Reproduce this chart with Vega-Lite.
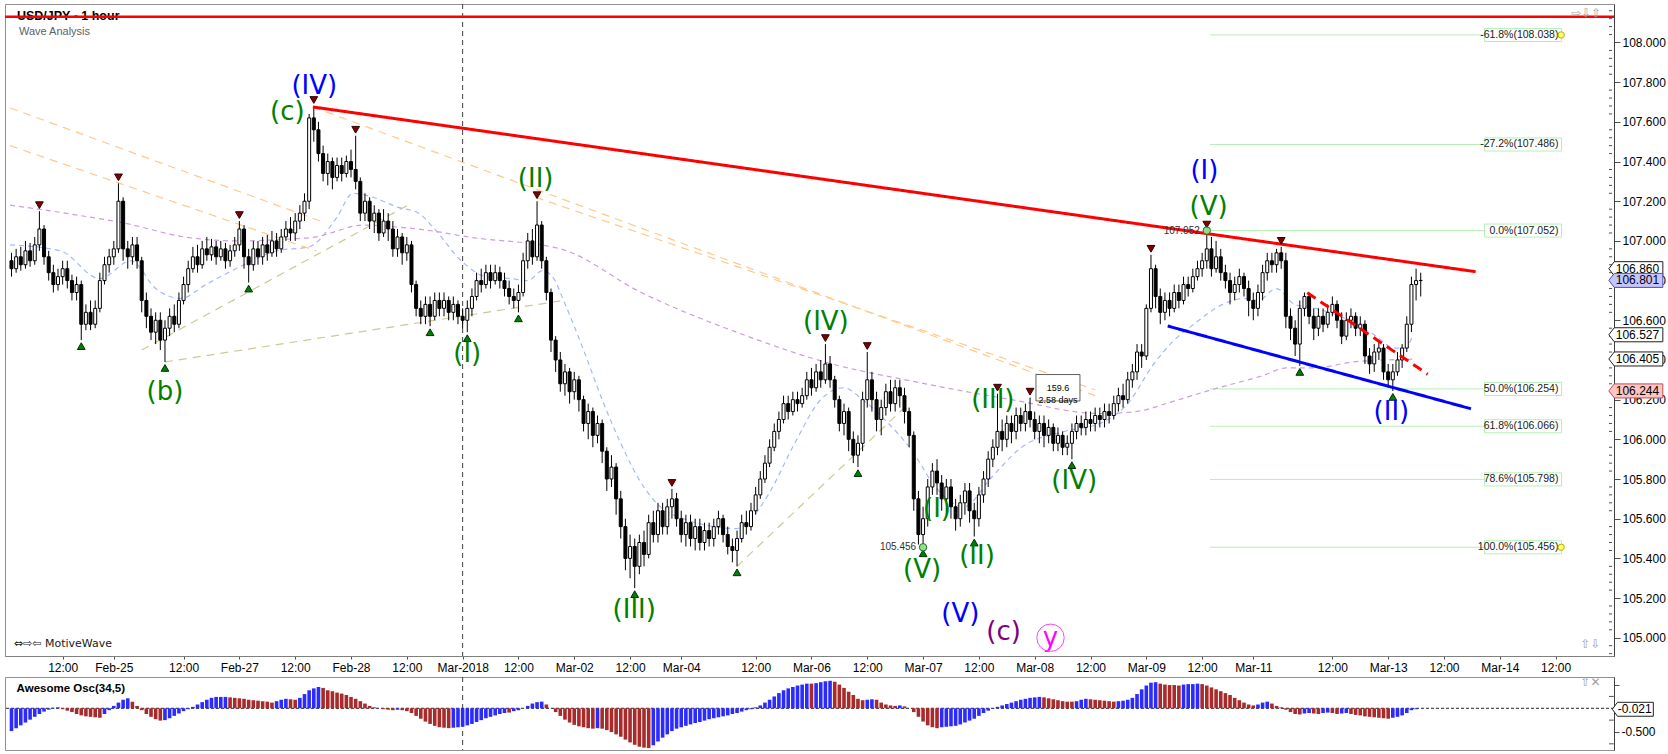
{
"$schema": "https://vega.github.io/schema/vega-lite/v6.json",
"padding": {"left": 3, "top": 3, "right": 0, "bottom": 0},
"background": "#ffffff",
"spacing": 1,
"config": {"view": {"stroke": "#909090"}, "axis": {"grid": false, "labelFont": "Liberation Sans", "labelColor": "#000000", "labelFontSize": 12, "domainColor": "#505050", "tickColor": "#505050"}},
"datasets": {
"one": [{}],
"mt": [{"v":104.92},{"v":104.96},{"v":105.04},{"v":105.08},{"v":105.12},{"v":105.16},{"v":105.24},{"v":105.28},{"v":105.32},{"v":105.36},{"v":105.44},{"v":105.48},{"v":105.52},{"v":105.56},{"v":105.64},{"v":105.68},{"v":105.72},{"v":105.76},{"v":105.84},{"v":105.88},{"v":105.92},{"v":105.96},{"v":106.04},{"v":106.08},{"v":106.12},{"v":106.16},{"v":106.24},{"v":106.28},{"v":106.32},{"v":106.36},{"v":106.44},{"v":106.48},{"v":106.52},{"v":106.56},{"v":106.64},{"v":106.68},{"v":106.72},{"v":106.76},{"v":106.84},{"v":106.88},{"v":106.92},{"v":106.96},{"v":107.04},{"v":107.08},{"v":107.12},{"v":107.16},{"v":107.24},{"v":107.28},{"v":107.32},{"v":107.36},{"v":107.44},{"v":107.48},{"v":107.52},{"v":107.56},{"v":107.64},{"v":107.68},{"v":107.72},{"v":107.76},{"v":107.84},{"v":107.88},{"v":107.92},{"v":107.96},{"v":108.04},{"v":108.08},{"v":108.12},{"v":108.16}],
"ot": [{"v":-0.75},{"v":-0.25},{"v":0.25}],
"k": [
{"i":-11,"o":106.90,"h":106.94,"l":106.82,"c":106.86,"a":-0.48,"u":1},
{"i":-10,"o":106.86,"h":106.96,"l":106.84,"c":106.92,"a":-0.42,"u":1},
{"i":-9,"o":106.92,"h":106.97,"l":106.85,"c":106.88,"a":-0.36,"u":1},
{"i":-8,"o":106.88,"h":107.00,"l":106.86,"c":106.95,"a":-0.30,"u":1},
{"i":-7,"o":106.95,"h":106.99,"l":106.87,"c":106.90,"a":-0.24,"u":1},
{"i":-6,"o":106.90,"h":107.02,"l":106.88,"c":106.98,"a":-0.18,"u":1},
{"i":-5,"o":106.98,"h":107.15,"l":106.95,"c":107.06,"a":-0.12,"u":1},
{"i":-4,"o":107.06,"h":107.08,"l":106.88,"c":106.92,"a":-0.07,"u":1},
{"i":-3,"o":106.92,"h":106.95,"l":106.80,"c":106.84,"a":-0.03,"u":1},
{"i":-2,"o":106.84,"h":106.88,"l":106.74,"c":106.78,"a":0.01,"u":1},
{"i":-1,"o":106.78,"h":106.86,"l":106.75,"c":106.82,"a":0.02,"u":1},
{"i":0,"o":106.82,"h":106.90,"l":106.78,"c":106.86,"a":-0.02,"u":0},
{"i":1,"o":106.86,"h":106.90,"l":106.76,"c":106.80,"a":-0.05,"u":0},
{"i":2,"o":106.80,"h":106.83,"l":106.70,"c":106.74,"a":-0.08,"u":0},
{"i":3,"o":106.74,"h":106.82,"l":106.70,"c":106.78,"a":-0.12,"u":0},
{"i":4,"o":106.78,"h":106.80,"l":106.50,"c":106.58,"a":-0.15,"u":0},
{"i":5,"o":106.58,"h":106.68,"l":106.55,"c":106.64,"a":-0.17,"u":0},
{"i":6,"o":106.64,"h":106.70,"l":106.55,"c":106.58,"a":-0.18,"u":0},
{"i":7,"o":106.58,"h":106.70,"l":106.56,"c":106.66,"a":-0.19,"u":0},
{"i":8,"o":106.66,"h":106.84,"l":106.64,"c":106.80,"a":-0.20,"u":0},
{"i":9,"o":106.80,"h":106.92,"l":106.78,"c":106.88,"a":-0.12,"u":1},
{"i":10,"o":106.88,"h":106.96,"l":106.84,"c":106.92,"a":-0.04,"u":1},
{"i":11,"o":106.92,"h":107.00,"l":106.88,"c":106.96,"a":0.05,"u":1},
{"i":12,"o":106.96,"h":107.29,"l":106.94,"c":107.20,"a":0.12,"u":1},
{"i":13,"o":107.20,"h":107.22,"l":106.90,"c":106.96,"a":0.18,"u":1},
{"i":14,"o":106.96,"h":107.00,"l":106.86,"c":106.92,"a":0.21,"u":1},
{"i":15,"o":106.92,"h":107.02,"l":106.88,"c":106.98,"a":0.14,"u":0},
{"i":16,"o":106.98,"h":107.02,"l":106.86,"c":106.90,"a":0.05,"u":0},
{"i":17,"o":106.90,"h":106.92,"l":106.64,"c":106.70,"a":-0.04,"u":0},
{"i":18,"o":106.70,"h":106.74,"l":106.56,"c":106.62,"a":-0.12,"u":0},
{"i":19,"o":106.62,"h":106.66,"l":106.50,"c":106.54,"a":-0.18,"u":0},
{"i":20,"o":106.54,"h":106.64,"l":106.48,"c":106.60,"a":-0.23,"u":0},
{"i":21,"o":106.60,"h":106.64,"l":106.45,"c":106.50,"a":-0.26,"u":0},
{"i":22,"o":106.50,"h":106.60,"l":106.39,"c":106.56,"a":-0.25,"u":1},
{"i":23,"o":106.56,"h":106.66,"l":106.52,"c":106.62,"a":-0.21,"u":1},
{"i":24,"o":106.62,"h":106.68,"l":106.54,"c":106.58,"a":-0.16,"u":1},
{"i":25,"o":106.58,"h":106.74,"l":106.56,"c":106.70,"a":-0.11,"u":1},
{"i":26,"o":106.70,"h":106.82,"l":106.68,"c":106.78,"a":-0.06,"u":1},
{"i":27,"o":106.78,"h":106.90,"l":106.74,"c":106.86,"a":-0.02,"u":1},
{"i":28,"o":106.86,"h":106.97,"l":106.84,"c":106.92,"a":0.03,"u":1},
{"i":29,"o":106.92,"h":106.98,"l":106.84,"c":106.88,"a":0.08,"u":1},
{"i":30,"o":106.88,"h":107.00,"l":106.86,"c":106.96,"a":0.13,"u":1},
{"i":31,"o":106.96,"h":107.02,"l":106.90,"c":106.93,"a":0.18,"u":1},
{"i":32,"o":106.93,"h":107.01,"l":106.90,"c":106.97,"a":0.22,"u":1},
{"i":33,"o":106.97,"h":107.00,"l":106.88,"c":106.92,"a":0.24,"u":1},
{"i":34,"o":106.92,"h":107.00,"l":106.90,"c":106.96,"a":0.24,"u":1},
{"i":35,"o":106.96,"h":106.99,"l":106.86,"c":106.90,"a":0.24,"u":1},
{"i":36,"o":106.90,"h":106.98,"l":106.87,"c":106.95,"a":0.23,"u":0},
{"i":37,"o":106.95,"h":107.02,"l":106.92,"c":106.98,"a":0.22,"u":0},
{"i":38,"o":106.98,"h":107.10,"l":106.95,"c":107.06,"a":0.21,"u":0},
{"i":39,"o":107.06,"h":107.08,"l":106.86,"c":106.92,"a":0.20,"u":0},
{"i":40,"o":106.92,"h":106.96,"l":106.79,"c":106.88,"a":0.18,"u":0},
{"i":41,"o":106.88,"h":107.00,"l":106.85,"c":106.96,"a":0.17,"u":0},
{"i":42,"o":106.96,"h":107.00,"l":106.88,"c":106.92,"a":0.16,"u":0},
{"i":43,"o":106.92,"h":107.02,"l":106.88,"c":106.98,"a":0.15,"u":0},
{"i":44,"o":106.98,"h":107.03,"l":106.90,"c":106.94,"a":0.14,"u":0},
{"i":45,"o":106.94,"h":107.05,"l":106.92,"c":107.00,"a":0.12,"u":0},
{"i":46,"o":107.00,"h":107.04,"l":106.92,"c":106.96,"a":0.15,"u":1},
{"i":47,"o":106.96,"h":107.06,"l":106.94,"c":107.02,"a":0.18,"u":1},
{"i":48,"o":107.02,"h":107.10,"l":107.00,"c":107.06,"a":0.20,"u":1},
{"i":49,"o":107.06,"h":107.12,"l":107.00,"c":107.04,"a":0.19,"u":0},
{"i":50,"o":107.04,"h":107.14,"l":107.00,"c":107.10,"a":0.18,"u":0},
{"i":51,"o":107.10,"h":107.18,"l":107.06,"c":107.14,"a":0.22,"u":1},
{"i":52,"o":107.14,"h":107.24,"l":107.10,"c":107.20,"a":0.30,"u":1},
{"i":53,"o":107.20,"h":107.64,"l":107.16,"c":107.62,"a":0.38,"u":1},
{"i":54,"o":107.62,"h":107.68,"l":107.50,"c":107.56,"a":0.42,"u":1},
{"i":55,"o":107.56,"h":107.60,"l":107.40,"c":107.44,"a":0.45,"u":1},
{"i":56,"o":107.44,"h":107.48,"l":107.30,"c":107.34,"a":0.43,"u":0},
{"i":57,"o":107.34,"h":107.44,"l":107.28,"c":107.40,"a":0.38,"u":0},
{"i":58,"o":107.40,"h":107.42,"l":107.26,"c":107.32,"a":0.36,"u":0},
{"i":59,"o":107.32,"h":107.42,"l":107.30,"c":107.38,"a":0.33,"u":0},
{"i":60,"o":107.38,"h":107.42,"l":107.30,"c":107.34,"a":0.31,"u":0},
{"i":61,"o":107.34,"h":107.43,"l":107.32,"c":107.40,"a":0.28,"u":0},
{"i":62,"o":107.40,"h":107.46,"l":107.32,"c":107.36,"a":0.24,"u":0},
{"i":63,"o":107.36,"h":107.53,"l":107.26,"c":107.30,"a":0.20,"u":0},
{"i":64,"o":107.30,"h":107.32,"l":107.10,"c":107.14,"a":0.15,"u":0},
{"i":65,"o":107.14,"h":107.24,"l":107.10,"c":107.20,"a":0.10,"u":0},
{"i":66,"o":107.20,"h":107.22,"l":107.06,"c":107.10,"a":0.05,"u":0},
{"i":67,"o":107.10,"h":107.18,"l":107.04,"c":107.14,"a":0.02,"u":0},
{"i":68,"o":107.14,"h":107.16,"l":107.00,"c":107.04,"a":0.00,"u":0},
{"i":69,"o":107.04,"h":107.16,"l":107.02,"c":107.10,"a":-0.02,"u":0},
{"i":70,"o":107.10,"h":107.14,"l":107.00,"c":107.06,"a":-0.03,"u":0},
{"i":71,"o":107.06,"h":107.10,"l":106.92,"c":106.96,"a":-0.04,"u":0},
{"i":72,"o":106.96,"h":107.06,"l":106.92,"c":107.02,"a":-0.03,"u":1},
{"i":73,"o":107.02,"h":107.04,"l":106.88,"c":106.94,"a":-0.04,"u":0},
{"i":74,"o":106.94,"h":107.02,"l":106.90,"c":106.98,"a":-0.06,"u":0},
{"i":75,"o":106.98,"h":107.00,"l":106.74,"c":106.78,"a":-0.10,"u":0},
{"i":76,"o":106.78,"h":106.80,"l":106.62,"c":106.66,"a":-0.16,"u":0},
{"i":77,"o":106.66,"h":106.70,"l":106.58,"c":106.62,"a":-0.22,"u":0},
{"i":78,"o":106.62,"h":106.72,"l":106.58,"c":106.68,"a":-0.28,"u":0},
{"i":79,"o":106.68,"h":106.72,"l":106.57,"c":106.62,"a":-0.33,"u":0},
{"i":80,"o":106.62,"h":106.74,"l":106.60,"c":106.70,"a":-0.37,"u":0},
{"i":81,"o":106.70,"h":106.74,"l":106.62,"c":106.66,"a":-0.40,"u":0},
{"i":82,"o":106.66,"h":106.74,"l":106.62,"c":106.70,"a":-0.41,"u":0},
{"i":83,"o":106.70,"h":106.72,"l":106.60,"c":106.64,"a":-0.42,"u":0},
{"i":84,"o":106.64,"h":106.72,"l":106.60,"c":106.68,"a":-0.41,"u":1},
{"i":85,"o":106.68,"h":106.70,"l":106.58,"c":106.62,"a":-0.40,"u":1},
{"i":86,"o":106.62,"h":106.66,"l":106.56,"c":106.60,"a":-0.39,"u":1},
{"i":87,"o":106.60,"h":106.70,"l":106.54,"c":106.66,"a":-0.36,"u":1},
{"i":88,"o":106.66,"h":106.76,"l":106.62,"c":106.72,"a":-0.33,"u":1},
{"i":89,"o":106.72,"h":106.84,"l":106.70,"c":106.80,"a":-0.29,"u":1},
{"i":90,"o":106.80,"h":106.86,"l":106.74,"c":106.78,"a":-0.25,"u":1},
{"i":91,"o":106.78,"h":106.88,"l":106.76,"c":106.84,"a":-0.21,"u":1},
{"i":92,"o":106.84,"h":106.88,"l":106.76,"c":106.80,"a":-0.18,"u":1},
{"i":93,"o":106.80,"h":106.88,"l":106.78,"c":106.84,"a":-0.15,"u":1},
{"i":94,"o":106.84,"h":106.87,"l":106.76,"c":106.80,"a":-0.12,"u":1},
{"i":95,"o":106.80,"h":106.84,"l":106.72,"c":106.76,"a":-0.10,"u":1},
{"i":96,"o":106.76,"h":106.80,"l":106.68,"c":106.72,"a":-0.09,"u":0},
{"i":97,"o":106.72,"h":106.76,"l":106.66,"c":106.70,"a":-0.06,"u":1},
{"i":98,"o":106.70,"h":106.78,"l":106.64,"c":106.74,"a":-0.04,"u":1},
{"i":99,"o":106.74,"h":106.94,"l":106.72,"c":106.90,"a":0.00,"u":1},
{"i":100,"o":106.90,"h":107.04,"l":106.86,"c":107.00,"a":0.05,"u":1},
{"i":101,"o":107.00,"h":107.06,"l":106.88,"c":106.92,"a":0.10,"u":1},
{"i":102,"o":106.92,"h":107.20,"l":106.90,"c":107.08,"a":0.13,"u":1},
{"i":103,"o":107.08,"h":107.10,"l":106.86,"c":106.90,"a":0.14,"u":1},
{"i":104,"o":106.90,"h":106.92,"l":106.70,"c":106.74,"a":0.08,"u":0},
{"i":105,"o":106.74,"h":106.76,"l":106.44,"c":106.50,"a":0.00,"u":0},
{"i":106,"o":106.50,"h":106.52,"l":106.34,"c":106.40,"a":-0.08,"u":0},
{"i":107,"o":106.40,"h":106.44,"l":106.24,"c":106.28,"a":-0.16,"u":0},
{"i":108,"o":106.28,"h":106.38,"l":106.22,"c":106.34,"a":-0.24,"u":0},
{"i":109,"o":106.34,"h":106.36,"l":106.18,"c":106.24,"a":-0.30,"u":0},
{"i":110,"o":106.24,"h":106.34,"l":106.20,"c":106.30,"a":-0.35,"u":0},
{"i":111,"o":106.30,"h":106.32,"l":106.14,"c":106.20,"a":-0.38,"u":0},
{"i":112,"o":106.20,"h":106.22,"l":106.04,"c":106.08,"a":-0.40,"u":0},
{"i":113,"o":106.08,"h":106.18,"l":106.00,"c":106.14,"a":-0.42,"u":0},
{"i":114,"o":106.14,"h":106.16,"l":105.96,"c":106.02,"a":-0.43,"u":0},
{"i":115,"o":106.02,"h":106.12,"l":105.98,"c":106.08,"a":-0.42,"u":1},
{"i":116,"o":106.08,"h":106.10,"l":105.88,"c":105.94,"a":-0.43,"u":0},
{"i":117,"o":105.94,"h":105.96,"l":105.74,"c":105.80,"a":-0.46,"u":0},
{"i":118,"o":105.80,"h":105.92,"l":105.76,"c":105.86,"a":-0.50,"u":0},
{"i":119,"o":105.86,"h":105.88,"l":105.62,"c":105.70,"a":-0.55,"u":0},
{"i":120,"o":105.70,"h":105.74,"l":105.50,"c":105.56,"a":-0.60,"u":0},
{"i":121,"o":105.56,"h":105.60,"l":105.34,"c":105.40,"a":-0.66,"u":0},
{"i":122,"o":105.40,"h":105.52,"l":105.30,"c":105.46,"a":-0.72,"u":0},
{"i":123,"o":105.46,"h":105.50,"l":105.25,"c":105.36,"a":-0.77,"u":0},
{"i":124,"o":105.36,"h":105.52,"l":105.32,"c":105.48,"a":-0.81,"u":0},
{"i":125,"o":105.48,"h":105.54,"l":105.36,"c":105.42,"a":-0.83,"u":0},
{"i":126,"o":105.42,"h":105.62,"l":105.40,"c":105.58,"a":-0.84,"u":0},
{"i":127,"o":105.58,"h":105.64,"l":105.48,"c":105.52,"a":-0.78,"u":1},
{"i":128,"o":105.52,"h":105.68,"l":105.48,"c":105.64,"a":-0.70,"u":1},
{"i":129,"o":105.64,"h":105.68,"l":105.52,"c":105.56,"a":-0.62,"u":1},
{"i":130,"o":105.56,"h":105.70,"l":105.52,"c":105.66,"a":-0.55,"u":1},
{"i":131,"o":105.66,"h":105.75,"l":105.60,"c":105.70,"a":-0.48,"u":1},
{"i":132,"o":105.70,"h":105.73,"l":105.56,"c":105.60,"a":-0.43,"u":1},
{"i":133,"o":105.60,"h":105.64,"l":105.48,"c":105.52,"a":-0.40,"u":1},
{"i":134,"o":105.52,"h":105.62,"l":105.46,"c":105.58,"a":-0.37,"u":1},
{"i":135,"o":105.58,"h":105.62,"l":105.46,"c":105.50,"a":-0.34,"u":1},
{"i":136,"o":105.50,"h":105.60,"l":105.44,"c":105.56,"a":-0.31,"u":1},
{"i":137,"o":105.56,"h":105.60,"l":105.44,"c":105.48,"a":-0.29,"u":1},
{"i":138,"o":105.48,"h":105.58,"l":105.44,"c":105.54,"a":-0.26,"u":1},
{"i":139,"o":105.54,"h":105.58,"l":105.46,"c":105.50,"a":-0.23,"u":1},
{"i":140,"o":105.50,"h":105.60,"l":105.46,"c":105.56,"a":-0.21,"u":1},
{"i":141,"o":105.56,"h":105.64,"l":105.52,"c":105.60,"a":-0.19,"u":1},
{"i":142,"o":105.60,"h":105.62,"l":105.48,"c":105.52,"a":-0.17,"u":1},
{"i":143,"o":105.52,"h":105.56,"l":105.42,"c":105.46,"a":-0.15,"u":1},
{"i":144,"o":105.46,"h":105.50,"l":105.38,"c":105.44,"a":-0.12,"u":1},
{"i":145,"o":105.44,"h":105.54,"l":105.36,"c":105.50,"a":-0.10,"u":1},
{"i":146,"o":105.50,"h":105.62,"l":105.48,"c":105.58,"a":-0.07,"u":1},
{"i":147,"o":105.58,"h":105.64,"l":105.52,"c":105.56,"a":-0.04,"u":1},
{"i":148,"o":105.56,"h":105.68,"l":105.54,"c":105.64,"a":-0.02,"u":1},
{"i":149,"o":105.64,"h":105.76,"l":105.62,"c":105.72,"a":0.02,"u":1},
{"i":150,"o":105.72,"h":105.84,"l":105.70,"c":105.80,"a":0.06,"u":1},
{"i":151,"o":105.80,"h":105.92,"l":105.78,"c":105.88,"a":0.12,"u":1},
{"i":152,"o":105.88,"h":106.00,"l":105.86,"c":105.96,"a":0.18,"u":1},
{"i":153,"o":105.96,"h":106.08,"l":105.94,"c":106.04,"a":0.25,"u":1},
{"i":154,"o":106.04,"h":106.14,"l":106.00,"c":106.10,"a":0.32,"u":1},
{"i":155,"o":106.10,"h":106.22,"l":106.08,"c":106.18,"a":0.38,"u":1},
{"i":156,"o":106.18,"h":106.22,"l":106.10,"c":106.14,"a":0.42,"u":1},
{"i":157,"o":106.14,"h":106.24,"l":106.12,"c":106.20,"a":0.45,"u":1},
{"i":158,"o":106.20,"h":106.24,"l":106.14,"c":106.18,"a":0.48,"u":1},
{"i":159,"o":106.18,"h":106.26,"l":106.16,"c":106.22,"a":0.50,"u":1},
{"i":160,"o":106.22,"h":106.34,"l":106.20,"c":106.30,"a":0.52,"u":1},
{"i":161,"o":106.30,"h":106.36,"l":106.22,"c":106.26,"a":0.52,"u":0},
{"i":162,"o":106.26,"h":106.38,"l":106.24,"c":106.34,"a":0.53,"u":1},
{"i":163,"o":106.34,"h":106.40,"l":106.26,"c":106.30,"a":0.55,"u":1},
{"i":164,"o":106.30,"h":106.48,"l":106.28,"c":106.38,"a":0.57,"u":1},
{"i":165,"o":106.38,"h":106.42,"l":106.26,"c":106.30,"a":0.58,"u":1},
{"i":166,"o":106.30,"h":106.32,"l":106.16,"c":106.20,"a":0.56,"u":0},
{"i":167,"o":106.20,"h":106.22,"l":106.04,"c":106.08,"a":0.50,"u":0},
{"i":168,"o":106.08,"h":106.18,"l":106.02,"c":106.14,"a":0.43,"u":0},
{"i":169,"o":106.14,"h":106.16,"l":105.94,"c":106.00,"a":0.35,"u":0},
{"i":170,"o":106.00,"h":106.04,"l":105.88,"c":105.92,"a":0.28,"u":0},
{"i":171,"o":105.92,"h":106.02,"l":105.86,"c":105.98,"a":0.20,"u":0},
{"i":172,"o":105.98,"h":106.24,"l":105.94,"c":106.20,"a":0.17,"u":0},
{"i":173,"o":106.20,"h":106.44,"l":106.16,"c":106.30,"a":0.18,"u":1},
{"i":174,"o":106.30,"h":106.34,"l":106.14,"c":106.20,"a":0.19,"u":1},
{"i":175,"o":106.20,"h":106.24,"l":106.04,"c":106.10,"a":0.18,"u":0},
{"i":176,"o":106.10,"h":106.20,"l":106.02,"c":106.16,"a":0.12,"u":0},
{"i":177,"o":106.16,"h":106.28,"l":106.12,"c":106.24,"a":0.08,"u":0},
{"i":178,"o":106.24,"h":106.30,"l":106.14,"c":106.18,"a":0.06,"u":0},
{"i":179,"o":106.18,"h":106.30,"l":106.14,"c":106.26,"a":0.05,"u":0},
{"i":180,"o":106.26,"h":106.30,"l":106.16,"c":106.22,"a":0.06,"u":1},
{"i":181,"o":106.22,"h":106.26,"l":106.08,"c":106.14,"a":0.04,"u":0},
{"i":182,"o":106.14,"h":106.16,"l":105.96,"c":106.02,"a":0.00,"u":0},
{"i":183,"o":106.02,"h":106.04,"l":105.64,"c":105.70,"a":-0.08,"u":0},
{"i":184,"o":105.70,"h":105.74,"l":105.47,"c":105.52,"a":-0.18,"u":0},
{"i":185,"o":105.52,"h":105.66,"l":105.456,"c":105.60,"a":-0.28,"u":0},
{"i":186,"o":105.60,"h":105.80,"l":105.56,"c":105.76,"a":-0.36,"u":0},
{"i":187,"o":105.76,"h":105.88,"l":105.72,"c":105.84,"a":-0.40,"u":0},
{"i":188,"o":105.84,"h":105.90,"l":105.72,"c":105.78,"a":-0.42,"u":0},
{"i":189,"o":105.78,"h":105.82,"l":105.64,"c":105.70,"a":-0.40,"u":1},
{"i":190,"o":105.70,"h":105.80,"l":105.62,"c":105.76,"a":-0.39,"u":1},
{"i":191,"o":105.76,"h":105.80,"l":105.60,"c":105.66,"a":-0.38,"u":1},
{"i":192,"o":105.66,"h":105.70,"l":105.54,"c":105.60,"a":-0.37,"u":1},
{"i":193,"o":105.60,"h":105.72,"l":105.56,"c":105.68,"a":-0.34,"u":1},
{"i":194,"o":105.68,"h":105.78,"l":105.62,"c":105.74,"a":-0.30,"u":1},
{"i":195,"o":105.74,"h":105.78,"l":105.58,"c":105.64,"a":-0.26,"u":1},
{"i":196,"o":105.64,"h":105.68,"l":105.51,"c":105.60,"a":-0.22,"u":1},
{"i":197,"o":105.60,"h":105.76,"l":105.56,"c":105.72,"a":-0.16,"u":1},
{"i":198,"o":105.72,"h":105.84,"l":105.68,"c":105.80,"a":-0.10,"u":1},
{"i":199,"o":105.80,"h":105.94,"l":105.76,"c":105.90,"a":-0.05,"u":1},
{"i":200,"o":105.90,"h":106.00,"l":105.86,"c":105.96,"a":-0.01,"u":1},
{"i":201,"o":105.96,"h":106.23,"l":105.92,"c":106.04,"a":0.03,"u":1},
{"i":202,"o":106.04,"h":106.10,"l":105.94,"c":106.00,"a":0.06,"u":1},
{"i":203,"o":106.00,"h":106.12,"l":105.96,"c":106.08,"a":0.09,"u":1},
{"i":204,"o":106.08,"h":106.12,"l":105.98,"c":106.04,"a":0.12,"u":1},
{"i":205,"o":106.04,"h":106.16,"l":106.00,"c":106.12,"a":0.15,"u":1},
{"i":206,"o":106.12,"h":106.16,"l":106.04,"c":106.08,"a":0.18,"u":1},
{"i":207,"o":106.08,"h":106.18,"l":106.04,"c":106.14,"a":0.20,"u":1},
{"i":208,"o":106.14,"h":106.21,"l":106.06,"c":106.10,"a":0.22,"u":1},
{"i":209,"o":106.10,"h":106.14,"l":106.00,"c":106.04,"a":0.23,"u":1},
{"i":210,"o":106.04,"h":106.12,"l":105.98,"c":106.08,"a":0.24,"u":1},
{"i":211,"o":106.08,"h":106.12,"l":105.96,"c":106.02,"a":0.23,"u":0},
{"i":212,"o":106.02,"h":106.10,"l":105.98,"c":106.06,"a":0.21,"u":0},
{"i":213,"o":106.06,"h":106.08,"l":105.94,"c":105.98,"a":0.19,"u":0},
{"i":214,"o":105.98,"h":106.06,"l":105.94,"c":106.02,"a":0.17,"u":0},
{"i":215,"o":106.02,"h":106.04,"l":105.92,"c":105.96,"a":0.15,"u":0},
{"i":216,"o":105.96,"h":106.02,"l":105.92,"c":105.98,"a":0.14,"u":0},
{"i":217,"o":105.98,"h":106.08,"l":105.90,"c":106.04,"a":0.14,"u":0},
{"i":218,"o":106.04,"h":106.12,"l":106.00,"c":106.08,"a":0.15,"u":1},
{"i":219,"o":106.08,"h":106.12,"l":106.02,"c":106.06,"a":0.18,"u":1},
{"i":220,"o":106.06,"h":106.14,"l":106.02,"c":106.10,"a":0.20,"u":1},
{"i":221,"o":106.10,"h":106.14,"l":106.04,"c":106.08,"a":0.19,"u":0},
{"i":222,"o":106.08,"h":106.16,"l":106.04,"c":106.12,"a":0.18,"u":0},
{"i":223,"o":106.12,"h":106.16,"l":106.06,"c":106.10,"a":0.17,"u":0},
{"i":224,"o":106.10,"h":106.18,"l":106.06,"c":106.14,"a":0.16,"u":0},
{"i":225,"o":106.14,"h":106.18,"l":106.08,"c":106.12,"a":0.15,"u":0},
{"i":226,"o":106.12,"h":106.22,"l":106.10,"c":106.18,"a":0.14,"u":0},
{"i":227,"o":106.18,"h":106.26,"l":106.14,"c":106.22,"a":0.15,"u":1},
{"i":228,"o":106.22,"h":106.28,"l":106.16,"c":106.20,"a":0.16,"u":1},
{"i":229,"o":106.20,"h":106.34,"l":106.18,"c":106.30,"a":0.18,"u":1},
{"i":230,"o":106.30,"h":106.38,"l":106.26,"c":106.34,"a":0.22,"u":1},
{"i":231,"o":106.34,"h":106.48,"l":106.30,"c":106.44,"a":0.30,"u":1},
{"i":232,"o":106.44,"h":106.48,"l":106.36,"c":106.42,"a":0.40,"u":1},
{"i":233,"o":106.42,"h":106.68,"l":106.40,"c":106.66,"a":0.48,"u":1},
{"i":234,"o":106.66,"h":106.93,"l":106.64,"c":106.86,"a":0.54,"u":1},
{"i":235,"o":106.86,"h":106.88,"l":106.66,"c":106.72,"a":0.55,"u":1},
{"i":236,"o":106.72,"h":106.76,"l":106.58,"c":106.64,"a":0.52,"u":0},
{"i":237,"o":106.64,"h":106.74,"l":106.60,"c":106.70,"a":0.50,"u":0},
{"i":238,"o":106.70,"h":106.74,"l":106.62,"c":106.66,"a":0.49,"u":0},
{"i":239,"o":106.66,"h":106.78,"l":106.64,"c":106.74,"a":0.49,"u":0},
{"i":240,"o":106.74,"h":106.78,"l":106.66,"c":106.70,"a":0.48,"u":0},
{"i":241,"o":106.70,"h":106.82,"l":106.68,"c":106.78,"a":0.50,"u":1},
{"i":242,"o":106.78,"h":106.82,"l":106.72,"c":106.76,"a":0.51,"u":1},
{"i":243,"o":106.76,"h":106.86,"l":106.74,"c":106.82,"a":0.51,"u":1},
{"i":244,"o":106.82,"h":106.90,"l":106.80,"c":106.86,"a":0.52,"u":1},
{"i":245,"o":106.86,"h":106.94,"l":106.82,"c":106.90,"a":0.51,"u":0},
{"i":246,"o":106.90,"h":107.052,"l":106.86,"c":106.96,"a":0.48,"u":0},
{"i":247,"o":106.96,"h":107.02,"l":106.82,"c":106.86,"a":0.44,"u":0},
{"i":248,"o":106.86,"h":107.00,"l":106.84,"c":106.92,"a":0.40,"u":0},
{"i":249,"o":106.92,"h":106.96,"l":106.80,"c":106.84,"a":0.36,"u":0},
{"i":250,"o":106.84,"h":106.88,"l":106.76,"c":106.80,"a":0.32,"u":0},
{"i":251,"o":106.80,"h":106.84,"l":106.68,"c":106.74,"a":0.28,"u":0},
{"i":252,"o":106.74,"h":106.82,"l":106.70,"c":106.78,"a":0.22,"u":0},
{"i":253,"o":106.78,"h":106.86,"l":106.74,"c":106.82,"a":0.17,"u":0},
{"i":254,"o":106.82,"h":106.84,"l":106.72,"c":106.76,"a":0.12,"u":0},
{"i":255,"o":106.76,"h":106.80,"l":106.62,"c":106.70,"a":0.08,"u":0},
{"i":256,"o":106.70,"h":106.74,"l":106.60,"c":106.66,"a":0.06,"u":0},
{"i":257,"o":106.66,"h":106.78,"l":106.62,"c":106.74,"a":0.08,"u":1},
{"i":258,"o":106.74,"h":106.88,"l":106.70,"c":106.84,"a":0.12,"u":1},
{"i":259,"o":106.84,"h":106.94,"l":106.80,"c":106.90,"a":0.14,"u":1},
{"i":260,"o":106.90,"h":106.94,"l":106.84,"c":106.88,"a":0.10,"u":0},
{"i":261,"o":106.88,"h":106.96,"l":106.84,"c":106.94,"a":0.05,"u":0},
{"i":262,"o":106.94,"h":106.97,"l":106.86,"c":106.90,"a":0.02,"u":0},
{"i":263,"o":106.90,"h":106.94,"l":106.56,"c":106.62,"a":-0.03,"u":0},
{"i":264,"o":106.62,"h":106.66,"l":106.50,"c":106.56,"a":-0.08,"u":0},
{"i":265,"o":106.56,"h":106.60,"l":106.42,"c":106.48,"a":-0.12,"u":0},
{"i":266,"o":106.48,"h":106.70,"l":106.37,"c":106.66,"a":-0.13,"u":0},
{"i":267,"o":106.66,"h":106.74,"l":106.62,"c":106.72,"a":-0.11,"u":1},
{"i":268,"o":106.72,"h":106.74,"l":106.58,"c":106.62,"a":-0.10,"u":1},
{"i":269,"o":106.62,"h":106.66,"l":106.50,"c":106.56,"a":-0.11,"u":0},
{"i":270,"o":106.56,"h":106.66,"l":106.52,"c":106.62,"a":-0.12,"u":0},
{"i":271,"o":106.62,"h":106.66,"l":106.54,"c":106.58,"a":-0.10,"u":1},
{"i":272,"o":106.58,"h":106.68,"l":106.56,"c":106.64,"a":-0.09,"u":1},
{"i":273,"o":106.64,"h":106.72,"l":106.62,"c":106.68,"a":-0.10,"u":0},
{"i":274,"o":106.68,"h":106.70,"l":106.56,"c":106.60,"a":-0.12,"u":0},
{"i":275,"o":106.60,"h":106.64,"l":106.48,"c":106.52,"a":-0.11,"u":1},
{"i":276,"o":106.52,"h":106.64,"l":106.50,"c":106.60,"a":-0.10,"u":1},
{"i":277,"o":106.60,"h":106.66,"l":106.56,"c":106.62,"a":-0.12,"u":0},
{"i":278,"o":106.62,"h":106.64,"l":106.52,"c":106.56,"a":-0.14,"u":0},
{"i":279,"o":106.56,"h":106.62,"l":106.52,"c":106.58,"a":-0.15,"u":0},
{"i":280,"o":106.58,"h":106.60,"l":106.38,"c":106.42,"a":-0.17,"u":0},
{"i":281,"o":106.42,"h":106.46,"l":106.33,"c":106.38,"a":-0.18,"u":0},
{"i":282,"o":106.38,"h":106.48,"l":106.34,"c":106.44,"a":-0.19,"u":0},
{"i":283,"o":106.44,"h":106.50,"l":106.40,"c":106.46,"a":-0.20,"u":0},
{"i":284,"o":106.46,"h":106.48,"l":106.30,"c":106.34,"a":-0.21,"u":0},
{"i":285,"o":106.34,"h":106.38,"l":106.26,"c":106.30,"a":-0.22,"u":0},
{"i":286,"o":106.30,"h":106.38,"l":106.244,"c":106.34,"a":-0.20,"u":1},
{"i":287,"o":106.34,"h":106.44,"l":106.32,"c":106.40,"a":-0.18,"u":1},
{"i":288,"o":106.40,"h":106.48,"l":106.36,"c":106.46,"a":-0.15,"u":1},
{"i":289,"o":106.46,"h":106.62,"l":106.44,"c":106.58,"a":-0.10,"u":1},
{"i":290,"o":106.58,"h":106.82,"l":106.54,"c":106.78,"a":-0.04,"u":1},
{"i":291,"o":106.78,"h":106.86,"l":106.70,"c":106.80,"a":-0.021,"u":1},
{"i":292,"o":106.80,"h":106.84,"l":106.72,"c":106.801}
],
"ma": [
{"s":"f","i":-11.3,"p":106.98},{"s":"f","i":-0.5,"p":106.95},{"s":"f","i":8,"p":106.81},{"s":"f","i":14.7,"p":106.90},{"s":"f","i":20,"p":106.76},{"s":"f","i":25.4,"p":106.71},{"s":"f","i":30.8,"p":106.78},{"s":"f","i":39,"p":106.88},{"s":"f","i":46,"p":106.95},{"s":"f","i":53,"p":106.97},{"s":"f","i":59,"p":107.12},{"s":"f","i":62.4,"p":107.24},{"s":"f","i":66.7,"p":107.22},{"s":"f","i":72,"p":107.17},{"s":"f","i":76.5,"p":107.14},{"s":"f","i":79.6,"p":107.07},{"s":"f","i":85.7,"p":106.90},{"s":"f","i":91,"p":106.82},{"s":"f","i":96.4,"p":106.81},{"s":"f","i":100,"p":106.80},{"s":"f","i":103.2,"p":106.85},{"s":"f","i":105.6,"p":106.81},{"s":"f","i":107.7,"p":106.70},{"s":"f","i":112,"p":106.45},{"s":"f","i":116,"p":106.20},{"s":"f","i":120,"p":105.98},{"s":"f","i":124.4,"p":105.78},{"s":"f","i":129,"p":105.65},{"s":"f","i":133.5,"p":105.60},{"s":"f","i":140,"p":105.56},{"s":"f","i":144.8,"p":105.55},{"s":"f","i":148,"p":105.60},{"s":"f","i":151.7,"p":105.72},{"s":"f","i":157.4,"p":105.98},{"s":"f","i":163,"p":106.20},{"s":"f","i":168,"p":106.26},{"s":"f","i":172,"p":106.20},{"s":"f","i":176.7,"p":106.10},{"s":"f","i":182.4,"p":105.95},{"s":"f","i":188,"p":105.75},{"s":"f","i":193.8,"p":105.66},{"s":"f","i":199.4,"p":105.80},{"s":"f","i":206.2,"p":105.96},{"s":"f","i":215.4,"p":106.04},{"s":"f","i":223,"p":106.08},{"s":"f","i":229,"p":106.18},{"s":"f","i":234.6,"p":106.38},{"s":"f","i":239,"p":106.50},{"s":"f","i":243.2,"p":106.58},{"s":"f","i":249.4,"p":106.68},{"s":"f","i":254.1,"p":106.71},{"s":"f","i":257,"p":106.70},{"s":"f","i":261,"p":106.76},{"s":"f","i":264.9,"p":106.68},{"s":"f","i":269.4,"p":106.66},{"s":"f","i":275.6,"p":106.61},{"s":"f","i":281.8,"p":106.53},{"s":"f","i":286.5,"p":106.46},{"s":"f","i":288.5,"p":106.46},{"s":"f","i":290.4,"p":106.527},
{"s":"s","i":-11.3,"p":107.18},{"s":"s","i":-5.1,"p":107.16},{"s":"s","i":3.2,"p":107.13},{"s":"s","i":13.2,"p":107.09},{"s":"s","i":26.2,"p":107.02},{"s":"s","i":37.6,"p":107.00},{"s":"s","i":49.1,"p":107.01},{"s":"s","i":54.5,"p":107.02},{"s":"s","i":59,"p":107.05},{"s":"s","i":64.3,"p":107.08},{"s":"s","i":72,"p":107.07},{"s":"s","i":79.6,"p":107.05},{"s":"s","i":87.2,"p":107.02},{"s":"s","i":107,"p":106.96},{"s":"s","i":124.4,"p":106.74},{"s":"s","i":147.2,"p":106.52},{"s":"s","i":165.4,"p":106.38},{"s":"s","i":181.2,"p":106.30},{"s":"s","i":204,"p":106.20},{"s":"s","i":223,"p":106.13},{"s":"s","i":230.8,"p":106.14},{"s":"s","i":238.6,"p":106.19},{"s":"s","i":247,"p":106.25},{"s":"s","i":257.9,"p":106.32},{"s":"s","i":263.2,"p":106.36},{"s":"s","i":269.4,"p":106.36},{"s":"s","i":277.3,"p":106.39},{"s":"s","i":285,"p":106.40},{"s":"s","i":290.8,"p":106.405}
],
"tl": [
{"g":"o1","k":"o","i":-11.3,"p":107.67},{"g":"o1","k":"o","i":56.6,"p":107.09},
{"g":"o2","k":"o","i":-11.3,"p":107.48},{"g":"o2","k":"o","i":54.5,"p":106.95},
{"g":"o3","k":"o","i":53.8,"p":107.675},{"g":"o3","k":"o","i":222,"p":106.22},
{"g":"o4","k":"o","i":101.7,"p":107.22},{"g":"o4","k":"o","i":222,"p":106.25},
{"g":"t1","k":"t","i":17,"p":106.45},{"g":"t1","k":"t","i":75,"p":107.19},
{"g":"t2","k":"t","i":22,"p":106.39},{"g":"t2","k":"t","i":107.7,"p":106.70},
{"g":"t3","k":"t","i":145,"p":105.36},{"g":"t3","k":"t","i":181,"p":106.16}
],
"ml": [
{"g":"red","i":53.8,"p":107.675},{"g":"red","i":303.8,"p":106.845},
{"g":"blue","i":237.6,"p":106.571},{"g":"blue","i":302.8,"p":106.154},
{"g":"rd","i":267.6,"p":106.739},{"g":"rd","i":293.5,"p":106.328}
],
"mk": [
{"t":"h","i":-5,"p":107.15},{"t":"h","i":12,"p":107.29},{"t":"h","i":38,"p":107.10},{"t":"h","i":54,"p":107.68},{"t":"h","i":63,"p":107.53},{"t":"h","i":102,"p":107.20},{"t":"h","i":131,"p":105.75},{"t":"h","i":164,"p":106.48},{"t":"h","i":173,"p":106.44},{"t":"h","i":201,"p":106.23},{"t":"h","i":208,"p":106.21},{"t":"h","i":234,"p":106.93},{"t":"h","i":246,"p":107.052},{"t":"h","i":262,"p":106.97},
{"t":"l","i":4,"p":106.50},{"t":"l","i":22,"p":106.39},{"t":"l","i":40,"p":106.79},{"t":"l","i":79,"p":106.57},{"t":"l","i":87,"p":106.54},{"t":"l","i":98,"p":106.64},{"t":"l","i":123,"p":105.25},{"t":"l","i":145,"p":105.36},{"t":"l","i":171,"p":105.86},{"t":"l","i":185,"p":105.456},{"t":"l","i":196,"p":105.51},{"t":"l","i":217,"p":105.90},{"t":"l","i":266,"p":106.37},{"t":"l","i":286,"p":106.244}
],
"cc": [{"i":185,"p":105.456,"t":"105.456"},{"i":246,"p":107.052,"t":"107.052"}],
"wv": [
{"t":"(IV)","d":"b","i":54.1,"p":107.78},{"t":"(c)","d":"g","i":48.3,"p":107.65},{"t":"(b)","d":"g","i":22,"p":106.24},{"t":"(I)","d":"g","i":87,"p":106.43},{"t":"(II)","d":"g","i":101.7,"p":107.31},{"t":"(III)","d":"g","i":122.9,"p":105.14},{"t":"(IV)","d":"g","i":164.1,"p":106.59},{"t":"(V)","d":"g","i":184.8,"p":105.34},{"t":"(I)","d":"g","i":188,"p":105.65},{"t":"(II)","d":"g","i":196.6,"p":105.41},{"t":"(III)","d":"g","i":200,"p":106.20},{"t":"(IV)","d":"g","i":217.5,"p":105.79},{"t":"(V)","d":"g","i":246.4,"p":107.17},{"t":"(I)","d":"b","i":245.5,"p":107.35},{"t":"(II)","d":"b","i":285.7,"p":106.14},{"t":"(V)","d":"b","i":193,"p":105.12},{"t":"(c)","d":"p","i":202.3,"p":105.03},{"t":"y","d":"m","i":212.4,"p":105.0}
],
"fb": [
{"p":108.038,"t":"-61.8%(108.038)"},{"p":107.486,"t":"-27.2%(107.486)"},{"p":107.052,"t":"0.0%(107.052)"},{"p":106.254,"t":"50.0%(106.254)"},{"p":106.066,"t":"61.8%(106.066)"},{"p":105.798,"t":"78.6%(105.798)"},{"p":105.456,"t":"100.0%(105.456)"}
],
"tg": [
{"p":106.860,"t":"106.860","k":"w"},{"p":106.801,"t":"106.801","k":"b"},{"p":106.527,"t":"106.527","k":"w"},{"p":106.405,"t":"106.405","k":"w"},{"p":106.244,"t":"106.244","k":"r"}
]
},
"vconcat": [
{
"width": 1609,
"height": 652,
"resolve": {"scale": {"color": "independent", "fill": "independent", "stroke": "independent", "strokeDash": "independent"}},
"layer": [
{"data": {"name": "fb"}, "mark": {"type": "rule", "color": "#b4f0b4", "strokeWidth": 1},
 "encoding": {"x": {"datum": 246.7, "type": "quantitative", "scale": {"domain": [-11.32, 332.48], "nice": false, "zero": false},
   "axis": {"title": null, "values": [0,11,26,38,50,62,74,86,98,110,122,133,149,161,173,185,197,209,221,233,245,256,273,285,297,309,321], "labelExpr": "['12:00','Feb-25','12:00','Feb-27','12:00','Feb-28','12:00','Mar-2018','12:00','Mar-02','12:00','Mar-04','12:00','Mar-06','12:00','Mar-07','12:00','Mar-08','12:00','Mar-09','12:00','Mar-11','12:00','Mar-13','12:00','Mar-14','12:00'][indexof([0,11,26,38,50,62,74,86,98,110,122,133,149,161,173,185,197,209,221,233,245,256,273,285,297,309,321], datum.value)]", "tickSize": 3, "labelPadding": 3, "domainColor": "#808080", "labelFlush": false, "labelOverlap": false}},
  "x2": {"datum": 305.6},
  "y": {"field": "p", "type": "quantitative", "scale": {"domain": [104.908, 108.194], "nice": false, "zero": false},
   "axis": {"title": null, "orient": "right", "values": [105.0,105.2,105.4,105.6,105.8,106.0,106.2,106.4,106.6,106.8,107.0,107.2,107.4,107.6,107.8,108.0],
    "format": ".3f", "tickSize": 6, "labelPadding": 2, "domainColor": "#404040", "labelFlush": false, "labelOverlap": false}}}},
{"data": {"name": "mt"}, "mark": {"type": "rule", "color": "#505050", "strokeWidth": 1},
 "encoding": {"x": {"datum": 332.48}, "x2": {"datum": 333.15}, "y": {"field": "v", "type": "quantitative"}}},
{"data": {"name": "tl"}, "mark": {"type": "line", "strokeDash": [8, 6], "strokeWidth": 1.2},
 "encoding": {"x": {"field": "i", "type": "quantitative"}, "y": {"field": "p", "type": "quantitative"}, "detail": {"field": "g"},
  "color": {"field": "k", "type": "nominal", "scale": {"domain": ["o", "t"], "range": ["#ffc98c", "#cfc894"]}, "legend": null}}},
{"data": {"name": "ma"}, "mark": {"type": "line", "strokeDash": [5, 4], "strokeWidth": 1.2, "interpolate": "monotone"},
 "encoding": {"x": {"field": "i", "type": "quantitative"}, "y": {"field": "p", "type": "quantitative"},
  "color": {"field": "s", "type": "nominal", "scale": {"domain": ["f", "s"], "range": ["#a4b8ff", "#cc9ed8"]}, "legend": null}}},
{"data": {"name": "one"}, "mark": {"type": "rule", "color": "#404040", "strokeDash": [5, 4], "strokeWidth": 1}, "encoding": {"x": {"datum": 86}}},
{"data": {"name": "k"}, "mark": {"type": "rule", "color": "#000000", "strokeWidth": 1},
 "encoding": {"x": {"field": "i", "type": "quantitative"}, "y": {"field": "l", "type": "quantitative"}, "y2": {"field": "h"}}},
{"data": {"name": "k"}, "mark": {"type": "bar", "width": 3, "stroke": "#000000", "strokeWidth": 1},
 "encoding": {"x": {"field": "i", "type": "quantitative"}, "y": {"field": "o", "type": "quantitative"}, "y2": {"field": "c"},
  "fill": {"condition": {"test": "datum.c >= datum.o", "value": "#ffffff"}, "value": "#000000"}}},
{"data": {"name": "ml"}, "mark": {"type": "line", "strokeWidth": 3},
 "encoding": {"x": {"field": "i", "type": "quantitative"}, "y": {"field": "p", "type": "quantitative"}, "detail": {"field": "g"},
  "color": {"field": "g", "type": "nominal", "scale": {"domain": ["red", "blue", "rd"], "range": ["#ff0000", "#0000ff", "#ff0000"]}, "legend": null},
  "strokeDash": {"field": "g", "type": "nominal", "scale": {"domain": ["red", "blue", "rd"], "range": [[1, 0], [1, 0], [10, 6]]}, "legend": null}}},
{"data": {"name": "mk"}, "transform": [{"filter": "datum.t == 'h'"}], "mark": {"type": "point", "shape": "triangle-down", "size": 60, "filled": true, "fill": "#800000", "stroke": "#300000", "strokeWidth": 1, "opacity": 1, "yOffset": -6},
 "encoding": {"x": {"field": "i", "type": "quantitative"}, "y": {"field": "p", "type": "quantitative"}}},
{"data": {"name": "mk"}, "transform": [{"filter": "datum.t == 'l'"}], "mark": {"type": "point", "shape": "triangle-up", "size": 60, "filled": true, "fill": "#008000", "stroke": "#003000", "strokeWidth": 1, "opacity": 1, "yOffset": 6},
 "encoding": {"x": {"field": "i", "type": "quantitative"}, "y": {"field": "p", "type": "quantitative"}}},
{"data": {"name": "cc"}, "mark": {"type": "point", "shape": "circle", "size": 55, "filled": true, "fill": "#8ee08e", "stroke": "#207020", "strokeWidth": 1, "opacity": 1},
 "encoding": {"x": {"field": "i", "type": "quantitative"}, "y": {"field": "p", "type": "quantitative"}}},
{"data": {"name": "cc"}, "mark": {"type": "text", "align": "right", "dx": -7, "fontSize": 10, "font": "Liberation Sans", "color": "#303030", "baseline": "middle"},
 "encoding": {"x": {"field": "i", "type": "quantitative"}, "y": {"field": "p", "type": "quantitative"}, "text": {"field": "t"}}},
{"data": {"name": "fb"}, "mark": {"type": "point", "shape": "M-1,-0.17H1V0.17H-1Z", "size": 5929, "filled": true, "fill": "#ffffff", "stroke": "#b4f0b4", "strokeWidth": 1, "opacity": 1},
 "encoding": {"x": {"datum": 314}, "y": {"field": "p", "type": "quantitative"}}},
{"data": {"name": "fb"}, "mark": {"type": "text", "align": "right", "baseline": "middle", "fontSize": 10.5, "font": "Liberation Sans", "color": "#202020"},
 "encoding": {"x": {"datum": 321.6}, "y": {"field": "p", "type": "quantitative"}, "text": {"field": "t"}}},
{"data": {"name": "fb"}, "transform": [{"filter": "datum.p == 108.038 || datum.p == 105.456"}], "mark": {"type": "point", "shape": "circle", "size": 40, "filled": true, "fill": "#ffff70", "stroke": "#b0b000", "strokeWidth": 1, "opacity": 1},
 "encoding": {"x": {"datum": 322.2}, "y": {"field": "p", "type": "quantitative"}}},
{"data": {"name": "wv"}, "mark": {"type": "text", "font": "DejaVu Sans", "fontSize": 26, "baseline": "middle", "align": "center"},
 "encoding": {"x": {"field": "i", "type": "quantitative"}, "y": {"field": "p", "type": "quantitative"}, "text": {"field": "t"},
  "color": {"field": "d", "type": "nominal", "scale": {"domain": ["g", "b", "p", "m"], "range": ["#008000", "#0000ff", "#800080", "#ff00ff"]}, "legend": null}}},
{"data": {"name": "wv"}, "transform": [{"filter": "datum.d == 'm'"}], "mark": {"type": "point", "shape": "circle", "size": 750, "filled": false, "stroke": "#ff40ff", "strokeWidth": 1, "opacity": 1},
 "encoding": {"x": {"field": "i", "type": "quantitative"}, "y": {"field": "p", "type": "quantitative"}}},
{"data": {"name": "one"}, "mark": {"type": "point", "shape": "M-1,-0.6H1V0.6H-1Z", "size": 1936, "filled": true, "fill": "#ffffff", "stroke": "#606060", "strokeWidth": 1, "opacity": 1},
 "encoding": {"x": {"datum": 214}, "y": {"datum": 106.26}}},
{"data": {"name": "one"}, "mark": {"type": "text", "text": ["159.6", "2.58 days"], "fontSize": 9, "font": "Liberation Sans", "color": "#000000", "baseline": "middle", "lineHeight": 12},
 "encoding": {"x": {"datum": 214}, "y": {"datum": 106.26}}},
{"data": {"name": "tg"}, "mark": {"type": "point", "shape": "M-1,0L-0.8,-0.26H1V0.26H-0.8Z", "size": 2916, "filled": true, "strokeWidth": 1, "opacity": 1},
 "encoding": {"x": {"datum": 338.25}, "y": {"field": "p", "type": "quantitative"},
  "fill": {"field": "k", "type": "nominal", "scale": {"domain": ["w", "b", "r"], "range": ["#ffffff", "#c4c4ff", "#ffc4c4"]}, "legend": null},
  "stroke": {"field": "k", "type": "nominal", "scale": {"domain": ["w", "b", "r"], "range": ["#202020", "#5050b0", "#c05050"]}, "legend": null}}},
{"data": {"name": "tg"}, "mark": {"type": "text", "align": "center", "baseline": "middle", "fontSize": 12, "font": "Liberation Sans", "color": "#000000"},
 "encoding": {"x": {"datum": 338.6}, "y": {"field": "p", "type": "quantitative"}, "text": {"field": "t"}}},
{"data": {"name": "one"}, "mark": {"type": "text", "text": "USD/JPY - 1 hour", "align": "left", "baseline": "middle", "fontSize": 12.5, "fontWeight": "bold", "font": "Liberation Sans", "color": "#000000"},
 "encoding": {"x": {"datum": -9.83}, "y": {"datum": 108.136}}},
{"data": {"name": "one"}, "mark": {"type": "text", "text": "Wave Analysis", "align": "left", "baseline": "middle", "fontSize": 11, "font": "Liberation Sans", "color": "#606060"},
 "encoding": {"x": {"datum": -9.4}, "y": {"datum": 108.053}}},
{"data": {"name": "one"}, "mark": {"type": "rule", "color": "#ff0000", "strokeWidth": 2.5}, "encoding": {"y": {"datum": 108.13}}},
{"data": {"name": "one"}, "mark": {"type": "text", "text": "⇔⇨⇦ MotiveWave", "align": "left", "baseline": "middle", "fontSize": 11, "font": "DejaVu Sans", "color": "#202020"},
 "encoding": {"x": {"datum": -10.5}, "y": {"datum": 104.966}}},
{"data": {"name": "one"}, "mark": {"type": "text", "text": "⇨⇩⇧", "align": "center", "baseline": "middle", "fontSize": 12, "font": "DejaVu Sans", "color": "#a0a0a0"},
 "encoding": {"x": {"datum": 327.6}, "y": {"datum": 108.15}}},
{"data": {"name": "one"}, "mark": {"type": "text", "text": "⇧⇩", "align": "center", "baseline": "middle", "fontSize": 12, "font": "DejaVu Sans", "color": "#a0a0a0"},
 "encoding": {"x": {"datum": 328.5}, "y": {"datum": 104.97}}}
]
},
{
"width": 1609,
"height": 73,
"layer": [
{"data": {"name": "one"}, "mark": {"type": "rule", "color": "#404040", "strokeDash": [5, 4], "strokeWidth": 1},
 "encoding": {"x": {"datum": 86, "type": "quantitative", "scale": {"domain": [-11.32, 332.48], "nice": false, "zero": false}, "axis": null}}},
{"data": {"name": "one"}, "mark": {"type": "rule", "color": "#202020", "strokeDash": [3, 2], "strokeWidth": 1},
 "encoding": {"y": {"datum": 0, "type": "quantitative", "scale": {"domain": [-0.88, 0.66], "nice": false, "zero": false},
  "axis": {"title": null, "orient": "right", "values": [-0.5, 0.5], "labelExpr": "datum.value == -0.5 ? '-0.500' : ''", "tickSize": 5, "labelPadding": 2, "domainColor": "#404040", "labelFlush": false, "labelOverlap": false}}}},
{"data": {"name": "ot"}, "mark": {"type": "rule", "color": "#505050", "strokeWidth": 1},
 "encoding": {"x": {"datum": 332.48}, "x2": {"datum": 333.5}, "y": {"field": "v", "type": "quantitative"}}},
{"data": {"name": "k"}, "transform": [{"filter": "isValid(datum.a)"}], "mark": {"type": "bar", "width": 3.6},
 "encoding": {"x": {"field": "i", "type": "quantitative"}, "y": {"field": "a", "type": "quantitative", "title": null}, "y2": {"datum": 0},
  "fill": {"condition": {"test": "datum.u == 1", "value": "#2b2bff"}, "value": "#a82a2a"}}},
{"data": {"name": "one"}, "mark": {"type": "point", "shape": "M-1,0L-0.75,-0.34H1V0.34H-0.75Z", "size": 1681, "filled": true, "fill": "#ffffff", "stroke": "#202020", "strokeWidth": 1, "opacity": 1},
 "encoding": {"x": {"datum": 337.6}, "y": {"datum": -0.021}}},
{"data": {"name": "one"}, "mark": {"type": "text", "text": "-0.021", "align": "center", "baseline": "middle", "fontSize": 12, "font": "Liberation Sans", "color": "#000000"},
 "encoding": {"x": {"datum": 338.0}, "y": {"datum": -0.021}}},
{"data": {"name": "one"}, "mark": {"type": "text", "text": "Awesome Osc(34,5)", "align": "left", "baseline": "middle", "fontSize": 11.5, "fontWeight": "bold", "font": "Liberation Sans", "color": "#000000"},
 "encoding": {"x": {"datum": -9.9}, "y": {"datum": 0.40}}},
{"data": {"name": "one"}, "mark": {"type": "text", "text": "⇧✕", "align": "center", "baseline": "middle", "fontSize": 12, "font": "DejaVu Sans", "color": "#a0a0a0"},
 "encoding": {"x": {"datum": 328.5}, "y": {"datum": 0.55}}}
]
}
]
}
